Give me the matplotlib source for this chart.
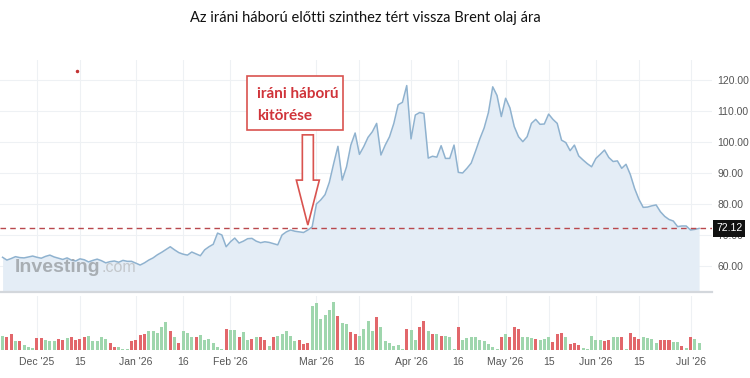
import matplotlib
matplotlib.use("Agg")
import matplotlib.pyplot as plt
from matplotlib.patches import FancyArrow, Rectangle
from matplotlib.lines import Line2D
import numpy as np
import pandas as pd

# trading days shown on the chart
dates = pd.bdate_range("2025-11-19", "2026-07-03")

# Brent daily close (USD)
price = [
    62.8, 61.9, 62.4, 63.0, 62.7, 62.6, 62.9, 63.2, 62.8, 62.5,
    63.1, 63.5, 62.9, 62.5, 62.1, 62.6, 61.9, 61.6, 62.3, 62.0,
    61.3, 61.8, 62.2, 61.7, 61.0, 61.4, 61.6, 61.2, 61.8, 61.5,
    61.5, 60.9, 60.3, 61.0, 61.9, 62.6, 63.6, 64.4, 65.3, 66.2,
    65.2, 64.3, 63.8, 63.5, 64.5, 63.9, 63.3, 65.2, 66.2, 67.0,
    70.6, 70.0, 66.2, 67.8, 69.0, 67.4, 68.0, 68.8, 68.9, 68.0,
    67.5, 67.8, 67.6, 67.2, 66.8, 70.0, 71.0, 71.6, 71.2, 71.0,
    70.8, 71.6, 72.6, 80.0, 81.3, 83.0, 87.0, 93.0, 98.6, 87.7,
    92.0, 99.0, 102.9, 96.0, 98.5, 101.5, 103.3, 106.0, 95.8, 99.0,
    101.7, 106.0, 112.0, 112.8, 118.2, 101.0, 108.7, 109.5, 109.2, 94.8,
    95.4, 95.1, 98.8, 94.7, 94.7, 99.0, 90.2, 90.0, 91.5, 93.2,
    97.0, 101.0, 104.5, 109.5, 117.8, 115.0, 108.2, 114.1, 111.0, 105.0,
    101.7, 100.1, 101.7, 106.0, 107.3, 105.7, 105.8, 109.0, 107.3, 106.0,
    100.6, 99.8, 97.2, 99.0, 95.5, 94.2, 93.0, 92.0, 94.7, 96.0,
    97.4, 95.0, 93.7, 93.9, 91.5, 92.8, 89.5, 85.0, 81.5, 78.9,
    79.0, 79.4, 79.7, 77.5, 76.0, 75.0, 74.5, 72.7, 72.9, 72.9,
    71.6, 71.8, 72.12,
]

# daily volume (relative units)
volume = [
    14.3, 12.7, 16, 8.7, 9.3, 5.3, 2.7, 2, 12, 12,
    10, 9.3, 9.3, 11, 10, 12, 12.7, 10, 11, 13.3,
    13.7, 9.3, 9.3, 12.7, 11, 6.7, 3.3, 2.7, 1, 1.5,
    8.7, 10, 15, 16, 18.7, 18.7, 16.7, 23.3, 27.7, 19.3,
    12.7, 6.7, 19.3, 16.7, 12.7, 13.3, 15.3, 10, 11, 6.7,
    2.7, 1, 21, 20, 20, 13.3, 17.7, 10, 11, 12.7,
    13.3, 10, 4.3, 13.3, 14.3, 16, 19.3, 14.3, 8.7, 10,
    6, 6.7, 44.3, 46.7, 31, 35.3, 40, 47.7, 34.3, 26.7,
    26, 17.7, 16, 14.3, 21, 29.3,
    19.3, 32.7, 22.7, 8.7, 6.7, 4.3, 5.3, 1.5, 21, 20,
    10, 23.3, 28.7, 19.3, 16, 16, 14.3, 14.3, 12.7, 1.5,
    23.3, 10, 12, 12.7, 13.3, 10, 8.7, 6, 3.3, 1,
    12.7, 16, 13.3, 23.3, 21, 12.7, 12.7, 11.7, 11, 10,
    11, 12.7, 7.7, 16, 16.7, 12.7, 6, 6.7, 5.3, 2,
    0.7, 14.3, 10, 10, 9.3, 10, 13.3, 13.3, 13.3, 1.5,
    16.7, 12.7, 11, 12.7, 12, 11, 6.7, 10, 10, 10,
    7.7, 7.7, 4.3, 2, 12.7, 11, 6.7,
]

# volume bar colour: G = up day, R = down day
direction = (
    "GRRGRGGGRR" "GGGRRGRRRR" "GGGGGRRGGG" "RRRRGGGGGR" "GRGGGRGGGG"
    "GGRGGRGGRG" "RRGRGGGGGR" "RRGGGGGGRG" "GRRGGG"
    "GRGGGGGGRG" "GRRGRGRGGG" "RGGGGGGGGG" "RGRRRGGGRG" "GGRRRGRRRG"
    "GGGGRRGGRG" "RRRGGGGRRR" "GGRGRGG"
)

tick_dates = ["2025-12-01", "2025-12-15", "2026-01-01", "2026-01-16", "2026-02-02",
              "2026-03-02", "2026-03-16", "2026-04-01", "2026-04-16", "2026-05-01",
              "2026-05-15", "2026-06-01", "2026-06-15", "2026-07-01"]
tick_labels = ["Dec '25", "15", "Jan '26", "16", "Feb '26", "Mar '26", "16",
               "Apr '26", "16", "May '26", "15", "Jun '26", "15", "Jul '26"]
price_ticks = [60, 70, 80, 90, 100, 110, 120]
last_price = 72.12
war_day = "2026-02-26"

title = "Az iráni háború előtti szinthez tért vissza Brent olaj ára"
note = "iráni háború\nkitörése"

W, H = 750, 378
def fx(px):
    return px / W
def fy(py):
    return 1 - py / H

x = np.arange(len(dates))
tick_pos = [dates.searchsorted(pd.Timestamp(d)) for d in tick_dates]

fig = plt.figure(figsize=(7.5, 3.78), dpi=100)
ax = fig.add_axes([0, fy(292), fx(712), fy(60) - fy(292)])
axv = fig.add_axes([0, fy(350), fx(712), fy(296) - fy(350)])

grid_c = "#eef1f4"
txt_c = "#555555"

# price panel
ax.fill_between(x, price, 40, color="#e4edf6", lw=0, zorder=1)
ax.plot(x, price, color="#8fb2cf", lw=1.1, zorder=2)
ax.axhline(last_price, color="#b9484d", lw=1, ls=(0, (4, 3)), zorder=3)
ax.set_xlim(-0.6, 165)
ax.set_ylim(51.6, 126.45)
ax.yaxis.tick_right()
ax.set_yticks(price_ticks)
ax.set_yticklabels([f"{v:.2f}" for v in price_ticks])
ax.set_xticks(tick_pos)
ax.tick_params(axis="x", labelbottom=False, length=0)
ax.tick_params(axis="y", length=0, pad=4, labelsize=7.5, labelcolor=txt_c)
for t in ax.get_yticklabels():
    t.set_family("Liberation Sans")
ax.grid(True, color=grid_c, lw=0.8)
ax.set_axisbelow(True)
for s in ["top", "left", "right"]:
    ax.spines[s].set_visible(False)
ax.spines["bottom"].set_color("#d3d7dc")
ax.spines["bottom"].set_linewidth(1.6)

ax.text(1.024, last_price, f"{last_price:.2f}", transform=ax.get_yaxis_transform(),
        ha="center", va="center", color="white", fontsize=7.5, family="Liberation Sans",
        bbox=dict(boxstyle="square,pad=0.3", fc="#111111", ec="none"),
        clip_on=False, zorder=10)

# watermark
ax.text(0.021, 0.086, "Investing", transform=ax.transAxes, fontsize=14,
        fontweight="bold", family="Liberation Sans", color="#9ea3a8", alpha=0.85,
        zorder=4, va="baseline")
ax.text(0.143, 0.086, ".com", transform=ax.transAxes, fontsize=11.5,
        family="Liberation Sans", color="#c3c7cb", zorder=4, va="baseline")

# arrow pointing to the outbreak of the war
wi = dates.searchsorted(pd.Timestamp(war_day))
ax.add_patch(FancyArrow(wi, 102.3, 0, -29.1, width=2.56, head_width=5.35,
                        head_length=14.5, length_includes_head=True,
                        fc="white", ec="#d9534f", lw=1.2, zorder=6))

# volume panel
colors = ["#9fd6ad" if d == "G" else "#e2676b" for d in direction]
axv.bar(x, volume, width=0.7, color=colors, zorder=2)
axv.set_xlim(-0.6, 165)
axv.set_ylim(0, 54)
axv.set_yticks([])
axv.set_xticks(tick_pos)
axv.set_xticklabels(tick_labels, family="Liberation Sans")
axv.tick_params(axis="x", length=0, pad=5, labelsize=7.5, labelcolor=txt_c)
axv.grid(True, axis="x", color=grid_c, lw=0.8)
axv.set_axisbelow(True)
for s in axv.spines.values():
    s.set_visible(False)

# title
fig.text(0.487, fy(18), title, ha="center", va="center", fontsize=10.5,
         family="Lato", color="#111111")

# annotation box
fig.add_artist(Rectangle((fx(247), fy(130)), fx(96), (130 - 76) / H,
                         transform=fig.transFigure, fc="white", ec="#d9534f", lw=1.2))
fig.text(fx(257), fy(105), note, ha="left", va="center", fontsize=11,
         family="Lato", fontweight="bold", color="#d0343a", linespacing=1.75)

fig.add_artist(Line2D([fx(77)], [fy(71)], marker="o", ms=1.5, color="#c33333", lw=0))

fig.savefig("out.png", dpi=100)
